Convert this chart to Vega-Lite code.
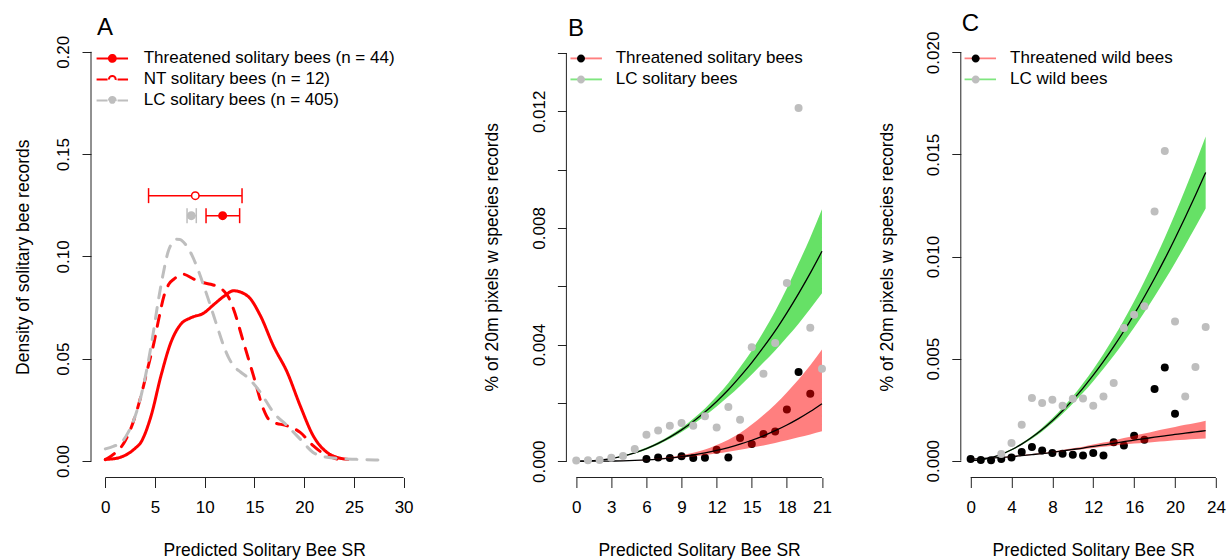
{
  "$schema": "https://vega.github.io/schema/vega-lite/v6.json",
  "background": "white",
  "padding": {"left": 14, "top": 12, "right": 2, "bottom": 2},
  "bounds": "flush",
  "spacing": 128.4,
  "config": {
    "font": "Liberation Sans",
    "view": {"stroke": null},
    "axis": {"grid": false, "domain": false, "tickColor": "#222", "tickWidth": 1, "labelFont": "Liberation Sans", "titleFont": "Liberation Sans", "labelFontSize": 17, "titleFontSize": 17.5, "titleFontWeight": "normal", "labelColor": "#000", "titleColor": "#000", "labelOverlap": false, "labelFlush": false},
    "legend": {"labelFont": "Liberation Sans", "labelFontSize": 17, "labelColor": "#000", "padding": 0, "labelLimit": 600, "rowPadding": 3, "offset": 0},
    "title": {"font": "Liberation Sans", "fontSize": 24, "fontWeight": "normal", "anchor": "start", "frame": "group", "baseline": "alphabetic", "offset": 3, "dy": 8, "color": "#000"}
  },
  "resolve": {"scale": {"color": "independent", "fill": "independent", "fillOpacity": "independent", "stroke": "independent", "strokeDash": "independent"}},
  "datasets": {
    "dens": [
      {"grp": "Threatened solitary bees (n = 44)", "x": 0, "y": 0.0008},
      {"grp": "Threatened solitary bees (n = 44)", "x": 1, "y": 0.0012},
      {"grp": "Threatened solitary bees (n = 44)", "x": 2, "y": 0.0028},
      {"grp": "Threatened solitary bees (n = 44)", "x": 3, "y": 0.0062},
      {"grp": "Threatened solitary bees (n = 44)", "x": 3.6, "y": 0.0093},
      {"grp": "Threatened solitary bees (n = 44)", "x": 4.6, "y": 0.022},
      {"grp": "Threatened solitary bees (n = 44)", "x": 5.6, "y": 0.0417},
      {"grp": "Threatened solitary bees (n = 44)", "x": 6.6, "y": 0.058},
      {"grp": "Threatened solitary bees (n = 44)", "x": 7.6, "y": 0.0669},
      {"grp": "Threatened solitary bees (n = 44)", "x": 8.6, "y": 0.070},
      {"grp": "Threatened solitary bees (n = 44)", "x": 9.9, "y": 0.0723},
      {"grp": "Threatened solitary bees (n = 44)", "x": 10.9, "y": 0.0764},
      {"grp": "Threatened solitary bees (n = 44)", "x": 11.9, "y": 0.0804},
      {"grp": "Threatened solitary bees (n = 44)", "x": 12.9, "y": 0.0832},
      {"grp": "Threatened solitary bees (n = 44)", "x": 14.3, "y": 0.0807},
      {"grp": "Threatened solitary bees (n = 44)", "x": 15.6, "y": 0.071},
      {"grp": "Threatened solitary bees (n = 44)", "x": 16.9, "y": 0.0563},
      {"grp": "Threatened solitary bees (n = 44)", "x": 18.3, "y": 0.0433},
      {"grp": "Threatened solitary bees (n = 44)", "x": 19.6, "y": 0.027},
      {"grp": "Threatened solitary bees (n = 44)", "x": 20.9, "y": 0.0124},
      {"grp": "Threatened solitary bees (n = 44)", "x": 22.3, "y": 0.0042},
      {"grp": "Threatened solitary bees (n = 44)", "x": 23.3, "y": 0.0018},
      {"grp": "Threatened solitary bees (n = 44)", "x": 24.4, "y": 0.0008},
      {"grp": "NT solitary bees (n = 12)", "x": 0, "y": 0.0006},
      {"grp": "NT solitary bees (n = 12)", "x": 1, "y": 0.004},
      {"grp": "NT solitary bees (n = 12)", "x": 1.9, "y": 0.009},
      {"grp": "NT solitary bees (n = 12)", "x": 2.8, "y": 0.019},
      {"grp": "NT solitary bees (n = 12)", "x": 3.6, "y": 0.032},
      {"grp": "NT solitary bees (n = 12)", "x": 4.3, "y": 0.046},
      {"grp": "NT solitary bees (n = 12)", "x": 4.9, "y": 0.058},
      {"grp": "NT solitary bees (n = 12)", "x": 5.4, "y": 0.070},
      {"grp": "NT solitary bees (n = 12)", "x": 5.9, "y": 0.0807},
      {"grp": "NT solitary bees (n = 12)", "x": 6.4, "y": 0.0865},
      {"grp": "NT solitary bees (n = 12)", "x": 6.9, "y": 0.0889},
      {"grp": "NT solitary bees (n = 12)", "x": 7.8, "y": 0.0913},
      {"grp": "NT solitary bees (n = 12)", "x": 8.9, "y": 0.0889},
      {"grp": "NT solitary bees (n = 12)", "x": 9.8, "y": 0.0872},
      {"grp": "NT solitary bees (n = 12)", "x": 10.6, "y": 0.0864},
      {"grp": "NT solitary bees (n = 12)", "x": 11.3, "y": 0.0852},
      {"grp": "NT solitary bees (n = 12)", "x": 11.9, "y": 0.0832},
      {"grp": "NT solitary bees (n = 12)", "x": 12.4, "y": 0.080},
      {"grp": "NT solitary bees (n = 12)", "x": 12.9, "y": 0.0742},
      {"grp": "NT solitary bees (n = 12)", "x": 13.9, "y": 0.058},
      {"grp": "NT solitary bees (n = 12)", "x": 14.9, "y": 0.0417},
      {"grp": "NT solitary bees (n = 12)", "x": 15.9, "y": 0.0254},
      {"grp": "NT solitary bees (n = 12)", "x": 16.4, "y": 0.0205},
      {"grp": "NT solitary bees (n = 12)", "x": 16.9, "y": 0.0189},
      {"grp": "NT solitary bees (n = 12)", "x": 18.3, "y": 0.0172},
      {"grp": "NT solitary bees (n = 12)", "x": 19.6, "y": 0.014},
      {"grp": "NT solitary bees (n = 12)", "x": 20.9, "y": 0.0075},
      {"grp": "NT solitary bees (n = 12)", "x": 22.3, "y": 0.0026},
      {"grp": "NT solitary bees (n = 12)", "x": 23.3, "y": 0.001},
      {"grp": "LC solitary bees (n = 405)", "x": 0, "y": 0.0059},
      {"grp": "LC solitary bees (n = 405)", "x": 0.8, "y": 0.0072},
      {"grp": "LC solitary bees (n = 405)", "x": 1.6, "y": 0.009},
      {"grp": "LC solitary bees (n = 405)", "x": 2.3, "y": 0.014},
      {"grp": "LC solitary bees (n = 405)", "x": 2.9, "y": 0.0205},
      {"grp": "LC solitary bees (n = 405)", "x": 3.6, "y": 0.032},
      {"grp": "LC solitary bees (n = 405)", "x": 4.3, "y": 0.048},
      {"grp": "LC solitary bees (n = 405)", "x": 4.8, "y": 0.062},
      {"grp": "LC solitary bees (n = 405)", "x": 5.3, "y": 0.0775},
      {"grp": "LC solitary bees (n = 405)", "x": 5.8, "y": 0.091},
      {"grp": "LC solitary bees (n = 405)", "x": 6.3, "y": 0.102},
      {"grp": "LC solitary bees (n = 405)", "x": 6.7, "y": 0.1065},
      {"grp": "LC solitary bees (n = 405)", "x": 7.1, "y": 0.1084},
      {"grp": "LC solitary bees (n = 405)", "x": 7.5, "y": 0.1083},
      {"grp": "LC solitary bees (n = 405)", "x": 7.9, "y": 0.1068},
      {"grp": "LC solitary bees (n = 405)", "x": 8.4, "y": 0.1035},
      {"grp": "LC solitary bees (n = 405)", "x": 8.9, "y": 0.0986},
      {"grp": "LC solitary bees (n = 405)", "x": 9.4, "y": 0.0925},
      {"grp": "LC solitary bees (n = 405)", "x": 9.9, "y": 0.0856},
      {"grp": "LC solitary bees (n = 405)", "x": 10.4, "y": 0.0785},
      {"grp": "LC solitary bees (n = 405)", "x": 10.9, "y": 0.071},
      {"grp": "LC solitary bees (n = 405)", "x": 11.4, "y": 0.0635},
      {"grp": "LC solitary bees (n = 405)", "x": 11.9, "y": 0.0563},
      {"grp": "LC solitary bees (n = 405)", "x": 12.4, "y": 0.0505},
      {"grp": "LC solitary bees (n = 405)", "x": 12.9, "y": 0.0465},
      {"grp": "LC solitary bees (n = 405)", "x": 13.6, "y": 0.0435},
      {"grp": "LC solitary bees (n = 405)", "x": 14.3, "y": 0.0409},
      {"grp": "LC solitary bees (n = 405)", "x": 15.6, "y": 0.0335},
      {"grp": "LC solitary bees (n = 405)", "x": 16.9, "y": 0.0238},
      {"grp": "LC solitary bees (n = 405)", "x": 18.3, "y": 0.0172},
      {"grp": "LC solitary bees (n = 405)", "x": 19.6, "y": 0.0107},
      {"grp": "LC solitary bees (n = 405)", "x": 20.9, "y": 0.0042},
      {"grp": "LC solitary bees (n = 405)", "x": 22.3, "y": 0.0018},
      {"grp": "LC solitary bees (n = 405)", "x": 23.5, "y": 0.0012},
      {"grp": "LC solitary bees (n = 405)", "x": 25.3, "y": 0.0008},
      {"grp": "LC solitary bees (n = 405)", "x": 27.6, "y": 0.0005}
    ],
    "eb": [
      {"grp": "Threatened solitary bees (n = 44)", "y": 0.1199, "lo": 10.13, "hi": 13.51, "mean": 11.8},
      {"grp": "NT solitary bees (n = 12)", "y": 0.1297, "lo": 4.35, "hi": 13.75, "mean": 9.05},
      {"grp": "LC solitary bees (n = 405)", "y": 0.1199, "lo": 8.22, "hi": 9.15, "mean": 8.65}
    ],
    "ptsB": [
      {"series": "LC solitary bees", "x": 0, "y": 0.00002},
      {"series": "LC solitary bees", "x": 1, "y": 0.00003},
      {"series": "LC solitary bees", "x": 2, "y": 0.00004},
      {"series": "LC solitary bees", "x": 3, "y": 0.00012},
      {"series": "LC solitary bees", "x": 4, "y": 0.00018},
      {"series": "LC solitary bees", "x": 5, "y": 0.00042},
      {"series": "LC solitary bees", "x": 6, "y": 0.00091},
      {"series": "LC solitary bees", "x": 7, "y": 0.00105},
      {"series": "LC solitary bees", "x": 8, "y": 0.00122},
      {"series": "LC solitary bees", "x": 9, "y": 0.00131},
      {"series": "LC solitary bees", "x": 10, "y": 0.00122},
      {"series": "LC solitary bees", "x": 11, "y": 0.00154},
      {"series": "LC solitary bees", "x": 12, "y": 0.00116},
      {"series": "LC solitary bees", "x": 13, "y": 0.00186},
      {"series": "LC solitary bees", "x": 14, "y": 0.00142},
      {"series": "LC solitary bees", "x": 15, "y": 0.00391},
      {"series": "LC solitary bees", "x": 16, "y": 0.0030},
      {"series": "LC solitary bees", "x": 17, "y": 0.00405},
      {"series": "LC solitary bees", "x": 18, "y": 0.00611},
      {"series": "LC solitary bees", "x": 19, "y": 0.01211},
      {"series": "LC solitary bees", "x": 20, "y": 0.00458},
      {"series": "LC solitary bees", "x": 21, "y": 0.00317},
      {"series": "Threatened solitary bees", "x": 6, "y": 0.000075},
      {"series": "Threatened solitary bees", "x": 7, "y": 0.00013},
      {"series": "Threatened solitary bees", "x": 8, "y": 0.00011},
      {"series": "Threatened solitary bees", "x": 9, "y": 0.00017},
      {"series": "Threatened solitary bees", "x": 10, "y": 0.00011},
      {"series": "Threatened solitary bees", "x": 11, "y": 0.00012},
      {"series": "Threatened solitary bees", "x": 12, "y": 0.00039},
      {"series": "Threatened solitary bees", "x": 13, "y": 0.00013},
      {"series": "Threatened solitary bees", "x": 14, "y": 0.0008},
      {"series": "Threatened solitary bees", "x": 15, "y": 0.00059},
      {"series": "Threatened solitary bees", "x": 16, "y": 0.00093},
      {"series": "Threatened solitary bees", "x": 17, "y": 0.00102},
      {"series": "Threatened solitary bees", "x": 18, "y": 0.00177},
      {"series": "Threatened solitary bees", "x": 19, "y": 0.00306},
      {"series": "Threatened solitary bees", "x": 20, "y": 0.00231}
    ],
    "fitB": [
      {"series": "LC solitary bees", "x": 0, "fit": 0, "lo": 0, "hi": 0},
      {"series": "LC solitary bees", "x": 1, "fit": 0.0000077, "lo": 0.0000065, "hi": 0.000009},
      {"series": "LC solitary bees", "x": 2, "fit": 0.0000367, "lo": 0.000032, "hi": 0.000042},
      {"series": "LC solitary bees", "x": 3, "fit": 0.0000912, "lo": 0.000081, "hi": 0.000102},
      {"series": "LC solitary bees", "x": 4, "fit": 0.000174, "lo": 0.000157, "hi": 0.000192},
      {"series": "LC solitary bees", "x": 5, "fit": 0.000287, "lo": 0.000261, "hi": 0.000313},
      {"series": "LC solitary bees", "x": 6, "fit": 0.000432, "lo": 0.000397, "hi": 0.000467},
      {"series": "LC solitary bees", "x": 7, "fit": 0.000611, "lo": 0.000565, "hi": 0.000657},
      {"series": "LC solitary bees", "x": 8, "fit": 0.000825, "lo": 0.000767, "hi": 0.000883},
      {"series": "LC solitary bees", "x": 9, "fit": 0.001074, "lo": 0.000999, "hi": 0.001149},
      {"series": "LC solitary bees", "x": 10, "fit": 0.001361, "lo": 0.001266, "hi": 0.001456},
      {"series": "LC solitary bees", "x": 11, "fit": 0.001685, "lo": 0.001559, "hi": 0.001811},
      {"series": "LC solitary bees", "x": 12, "fit": 0.00205, "lo": 0.001876, "hi": 0.002224},
      {"series": "LC solitary bees", "x": 13, "fit": 0.00245, "lo": 0.002217, "hi": 0.002683},
      {"series": "LC solitary bees", "x": 14, "fit": 0.0029, "lo": 0.002581, "hi": 0.003219},
      {"series": "LC solitary bees", "x": 15, "fit": 0.00338, "lo": 0.002974, "hi": 0.003786},
      {"series": "LC solitary bees", "x": 16, "fit": 0.00391, "lo": 0.003382, "hi": 0.004438},
      {"series": "LC solitary bees", "x": 17, "fit": 0.00447, "lo": 0.0038, "hi": 0.00514},
      {"series": "LC solitary bees", "x": 18, "fit": 0.00509, "lo": 0.00425, "hi": 0.00593},
      {"series": "LC solitary bees", "x": 19, "fit": 0.00575, "lo": 0.004715, "hi": 0.006785},
      {"series": "LC solitary bees", "x": 20, "fit": 0.00645, "lo": 0.005225, "hi": 0.007675},
      {"series": "LC solitary bees", "x": 21, "fit": 0.0072, "lo": 0.00576, "hi": 0.00864},
      {"series": "Threatened solitary bees", "x": 0, "fit": 0, "lo": 0, "hi": 0},
      {"series": "Threatened solitary bees", "x": 1, "fit": 0.0000002, "lo": 0.00000016, "hi": 0.00000026},
      {"series": "Threatened solitary bees", "x": 2, "fit": 0.0000017, "lo": 0.0000013, "hi": 0.0000022},
      {"series": "Threatened solitary bees", "x": 3, "fit": 0.0000058, "lo": 0.0000045, "hi": 0.0000075},
      {"series": "Threatened solitary bees", "x": 4, "fit": 0.0000136, "lo": 0.0000106, "hi": 0.0000177},
      {"series": "Threatened solitary bees", "x": 5, "fit": 0.0000266, "lo": 0.0000207, "hi": 0.0000346},
      {"series": "Threatened solitary bees", "x": 6, "fit": 0.000046, "lo": 0.0000359, "hi": 0.0000598},
      {"series": "Threatened solitary bees", "x": 7, "fit": 0.000073, "lo": 0.0000569, "hi": 0.0000949},
      {"series": "Threatened solitary bees", "x": 8, "fit": 0.000109, "lo": 0.000085, "hi": 0.000142},
      {"series": "Threatened solitary bees", "x": 9, "fit": 0.000155, "lo": 0.000121, "hi": 0.000202},
      {"series": "Threatened solitary bees", "x": 10, "fit": 0.000213, "lo": 0.000162, "hi": 0.000288},
      {"series": "Threatened solitary bees", "x": 11, "fit": 0.000284, "lo": 0.00021, "hi": 0.000398},
      {"series": "Threatened solitary bees", "x": 12, "fit": 0.000368, "lo": 0.000265, "hi": 0.000552},
      {"series": "Threatened solitary bees", "x": 13, "fit": 0.000468, "lo": 0.000328, "hi": 0.000739},
      {"series": "Threatened solitary bees", "x": 14, "fit": 0.000584, "lo": 0.000391, "hi": 0.000964},
      {"series": "Threatened solitary bees", "x": 15, "fit": 0.000719, "lo": 0.000467, "hi": 0.001258},
      {"series": "Threatened solitary bees", "x": 16, "fit": 0.000872, "lo": 0.000541, "hi": 0.001587},
      {"series": "Threatened solitary bees", "x": 17, "fit": 0.001046, "lo": 0.000628, "hi": 0.001946},
      {"series": "Threatened solitary bees", "x": 18, "fit": 0.001242, "lo": 0.00072, "hi": 0.00236},
      {"series": "Threatened solitary bees", "x": 19, "fit": 0.001461, "lo": 0.000818, "hi": 0.002805},
      {"series": "Threatened solitary bees", "x": 20, "fit": 0.001704, "lo": 0.00092, "hi": 0.003289},
      {"series": "Threatened solitary bees", "x": 21, "fit": 0.001973, "lo": 0.001026, "hi": 0.003828}
    ],
    "ptsC": [
      {"series": "LC wild bees", "x": 3, "y": 0.00033},
      {"series": "LC wild bees", "x": 4, "y": 0.00087},
      {"series": "LC wild bees", "x": 5, "y": 0.00176},
      {"series": "LC wild bees", "x": 6, "y": 0.00307},
      {"series": "LC wild bees", "x": 7, "y": 0.00283},
      {"series": "LC wild bees", "x": 8, "y": 0.00299},
      {"series": "LC wild bees", "x": 9, "y": 0.00269},
      {"series": "LC wild bees", "x": 10, "y": 0.00304},
      {"series": "LC wild bees", "x": 11, "y": 0.00305},
      {"series": "LC wild bees", "x": 12, "y": 0.00269},
      {"series": "LC wild bees", "x": 13, "y": 0.00315},
      {"series": "LC wild bees", "x": 14, "y": 0.0038},
      {"series": "LC wild bees", "x": 15, "y": 0.0065},
      {"series": "LC wild bees", "x": 16, "y": 0.00715},
      {"series": "LC wild bees", "x": 17, "y": 0.00756},
      {"series": "LC wild bees", "x": 18, "y": 0.01221},
      {"series": "LC wild bees", "x": 19, "y": 0.01517},
      {"series": "LC wild bees", "x": 20, "y": 0.00682},
      {"series": "LC wild bees", "x": 21, "y": 0.00315},
      {"series": "LC wild bees", "x": 22, "y": 0.00459},
      {"series": "LC wild bees", "x": 23, "y": 0.00655},
      {"series": "Threatened wild bees", "x": 0, "y": 0.00008},
      {"series": "Threatened wild bees", "x": 1, "y": 0.00003},
      {"series": "Threatened wild bees", "x": 2, "y": 0.00002},
      {"series": "Threatened wild bees", "x": 3, "y": 0.00008},
      {"series": "Threatened wild bees", "x": 4, "y": 0.00016},
      {"series": "Threatened wild bees", "x": 5, "y": 0.00043},
      {"series": "Threatened wild bees", "x": 6, "y": 0.00067},
      {"series": "Threatened wild bees", "x": 7, "y": 0.0005},
      {"series": "Threatened wild bees", "x": 8, "y": 0.00038},
      {"series": "Threatened wild bees", "x": 9, "y": 0.00034},
      {"series": "Threatened wild bees", "x": 10, "y": 0.00029},
      {"series": "Threatened wild bees", "x": 11, "y": 0.00026},
      {"series": "Threatened wild bees", "x": 12, "y": 0.00038},
      {"series": "Threatened wild bees", "x": 13, "y": 0.00026},
      {"series": "Threatened wild bees", "x": 14, "y": 0.0009},
      {"series": "Threatened wild bees", "x": 15, "y": 0.00075},
      {"series": "Threatened wild bees", "x": 16, "y": 0.00122},
      {"series": "Threatened wild bees", "x": 17, "y": 0.00103},
      {"series": "Threatened wild bees", "x": 18, "y": 0.00351},
      {"series": "Threatened wild bees", "x": 19, "y": 0.00456},
      {"series": "Threatened wild bees", "x": 20, "y": 0.0023}
    ],
    "fitC": [
      {"series": "LC wild bees", "x": 0, "fit": 0, "lo": 0, "hi": 0},
      {"series": "LC wild bees", "x": 1, "fit": 0.0000402, "lo": 0.0000378, "hi": 0.0000426},
      {"series": "LC wild bees", "x": 2, "fit": 0.000147, "lo": 0.000138, "hi": 0.000156},
      {"series": "LC wild bees", "x": 3, "fit": 0.000313, "lo": 0.000294, "hi": 0.000332},
      {"series": "LC wild bees", "x": 4, "fit": 0.000537, "lo": 0.000505, "hi": 0.000569},
      {"series": "LC wild bees", "x": 5, "fit": 0.000814, "lo": 0.000765, "hi": 0.000863},
      {"series": "LC wild bees", "x": 6, "fit": 0.001145, "lo": 0.001076, "hi": 0.001214},
      {"series": "LC wild bees", "x": 7, "fit": 0.001528, "lo": 0.001436, "hi": 0.00162},
      {"series": "LC wild bees", "x": 8, "fit": 0.00196, "lo": 0.001842, "hi": 0.002078},
      {"series": "LC wild bees", "x": 9, "fit": 0.002446, "lo": 0.002299, "hi": 0.002593},
      {"series": "LC wild bees", "x": 10, "fit": 0.002977, "lo": 0.002798, "hi": 0.003156},
      {"series": "LC wild bees", "x": 11, "fit": 0.003558, "lo": 0.003327, "hi": 0.003789},
      {"series": "LC wild bees", "x": 12, "fit": 0.004188, "lo": 0.003895, "hi": 0.004481},
      {"series": "LC wild bees", "x": 13, "fit": 0.004864, "lo": 0.004499, "hi": 0.005229},
      {"series": "LC wild bees", "x": 14, "fit": 0.005585, "lo": 0.005138, "hi": 0.006032},
      {"series": "LC wild bees", "x": 15, "fit": 0.006353, "lo": 0.005813, "hi": 0.006893},
      {"series": "LC wild bees", "x": 16, "fit": 0.007171, "lo": 0.006526, "hi": 0.007816},
      {"series": "LC wild bees", "x": 17, "fit": 0.008032, "lo": 0.007269, "hi": 0.008795},
      {"series": "LC wild bees", "x": 18, "fit": 0.008937, "lo": 0.008043, "hi": 0.009831},
      {"series": "LC wild bees", "x": 19, "fit": 0.009884, "lo": 0.008846, "hi": 0.010922},
      {"series": "LC wild bees", "x": 20, "fit": 0.010883, "lo": 0.009686, "hi": 0.01208},
      {"series": "LC wild bees", "x": 21, "fit": 0.011927, "lo": 0.010555, "hi": 0.013299},
      {"series": "LC wild bees", "x": 22, "fit": 0.013003, "lo": 0.011443, "hi": 0.014563},
      {"series": "LC wild bees", "x": 23, "fit": 0.01412, "lo": 0.012355, "hi": 0.015885},
      {"series": "Threatened wild bees", "x": 0, "fit": 0.00008, "lo": 0.000075, "hi": 0.000086},
      {"series": "Threatened wild bees", "x": 1, "fit": 0.0001, "lo": 0.000094, "hi": 0.000108},
      {"series": "Threatened wild bees", "x": 2, "fit": 0.00013, "lo": 0.000122, "hi": 0.00014},
      {"series": "Threatened wild bees", "x": 3, "fit": 0.00016, "lo": 0.00015, "hi": 0.000173},
      {"series": "Threatened wild bees", "x": 4, "fit": 0.0002, "lo": 0.000187, "hi": 0.000216},
      {"series": "Threatened wild bees", "x": 5, "fit": 0.00025, "lo": 0.000234, "hi": 0.00027},
      {"series": "Threatened wild bees", "x": 6, "fit": 0.0003, "lo": 0.000281, "hi": 0.000324},
      {"series": "Threatened wild bees", "x": 7, "fit": 0.00035, "lo": 0.000328, "hi": 0.000378},
      {"series": "Threatened wild bees", "x": 8, "fit": 0.00041, "lo": 0.000384, "hi": 0.000443},
      {"series": "Threatened wild bees", "x": 9, "fit": 0.00048, "lo": 0.000445, "hi": 0.000523},
      {"series": "Threatened wild bees", "x": 10, "fit": 0.00055, "lo": 0.000506, "hi": 0.000605},
      {"series": "Threatened wild bees", "x": 11, "fit": 0.00062, "lo": 0.000565, "hi": 0.000688},
      {"series": "Threatened wild bees", "x": 12, "fit": 0.0007, "lo": 0.000627, "hi": 0.000791},
      {"series": "Threatened wild bees", "x": 13, "fit": 0.00077, "lo": 0.000678, "hi": 0.000886},
      {"series": "Threatened wild bees", "x": 14, "fit": 0.00085, "lo": 0.000734, "hi": 0.000995},
      {"series": "Threatened wild bees", "x": 15, "fit": 0.00093, "lo": 0.000789, "hi": 0.001107},
      {"series": "Threatened wild bees", "x": 16, "fit": 0.00101, "lo": 0.00084, "hi": 0.001222},
      {"series": "Threatened wild bees", "x": 17, "fit": 0.00108, "lo": 0.000881, "hi": 0.001328},
      {"series": "Threatened wild bees", "x": 18, "fit": 0.00115, "lo": 0.00092, "hi": 0.001438},
      {"series": "Threatened wild bees", "x": 19, "fit": 0.00122, "lo": 0.000956, "hi": 0.001549},
      {"series": "Threatened wild bees", "x": 20, "fit": 0.00129, "lo": 0.000999, "hi": 0.001651},
      {"series": "Threatened wild bees", "x": 21, "fit": 0.00135, "lo": 0.001026, "hi": 0.001755},
      {"series": "Threatened wild bees", "x": 22, "fit": 0.00141, "lo": 0.00106, "hi": 0.001847},
      {"series": "Threatened wild bees", "x": 23, "fit": 0.00147, "lo": 0.001082, "hi": 0.001955}
    ]
  },
  "hconcat": [
    {
      "width": 346.4,
      "height": 441.5,
      "title": {"text": "A", "dx": 6},
      "layer": [
        {
          "data": {"name": "dens"},
          "mark": {"type": "line", "strokeWidth": 3, "interpolate": "monotone", "strokeCap": "round", "strokeJoin": "round"},
          "encoding": {
            "x": {"field": "x", "type": "quantitative", "scale": {"domain": [-1.44, 33.4], "nice": false, "zero": false}, "axis": {"values": [0, 5, 10, 15, 20, 25, 30], "tickCount": 20, "format": "d", "title": "Predicted Solitary Bee SR", "tickSize": 10, "labelPadding": 11.5, "labelBaseline": "top", "labelAngle": 0, "labelAlign": "center", "titleY": 78, "titleBaseline": "alphabetic", "labelOverlap": false}},
            "y": {"field": "y", "type": "quantitative", "scale": {"domain": [-0.00806, 0.20772], "nice": false, "zero": false}, "axis": {"values": [0, 0.05, 0.1, 0.15, 0.2], "tickCount": 20, "format": ".2f", "title": "Density of solitary bee records", "tickSize": 9, "labelAngle": -90, "labelAlign": "center", "labelBaseline": "alphabetic", "labelPadding": 13.4, "titleX": -62.4, "titleBaseline": "alphabetic", "titleAlign": "center", "labelOverlap": false}},
            "stroke": {
              "field": "grp", "type": "nominal",
              "scale": {"domain": ["Threatened solitary bees (n = 44)", "NT solitary bees (n = 12)", "LC solitary bees (n = 405)"], "range": ["#ff0000", "#ff0000", "#bebebe"]},
              "legend": {
                "orient": "none", "legendX": 12.8, "legendY": 13.9, "title": null,
                "symbolType": "M-3,0H3M-0.65,0A0.65,0.65,0,1,1,0.65,0A0.65,0.65,0,1,1,-0.65,0Z",
                "symbolSize": 110, "labelOffset": 22.9, "rowPadding": 3,
                "encode": {"symbols": {"update": {"fill": {"value": {"expr": "datum.index === 1 ? '#ffffff' : (datum.index === 2 ? '#bebebe' : '#ff0000')"}}, "strokeWidth": {"value": 2}, "opacity": {"value": 1}}}}
              }
            },
            "strokeDash": {
              "field": "grp", "type": "nominal",
              "scale": {"domain": ["Threatened solitary bees (n = 44)", "NT solitary bees (n = 12)", "LC solitary bees (n = 405)"], "range": [[1, 0], [11, 10], [11, 10]]}
            }
          }
        },
        {
          "data": {"values": [{}]},
          "mark": {"type": "rule", "color": "#222", "strokeWidth": 1},
          "encoding": {
            "x": {"datum": 0, "type": "quantitative", "scale": {"domain": [-1.44, 33.4], "nice": false, "zero": false}},
            "x2": {"datum": 30},
            "y": {"datum": -0.00806, "type": "quantitative", "scale": {"domain": [-0.00806, 0.20772], "nice": false, "zero": false}}
          }
        },
        {
          "data": {"values": [{}]},
          "mark": {"type": "rule", "color": "#222", "strokeWidth": 1},
          "encoding": {
            "x": {"datum": -1.44, "type": "quantitative", "scale": {"domain": [-1.44, 33.4], "nice": false, "zero": false}},
            "y": {"datum": 0, "type": "quantitative", "scale": {"domain": [-0.00806, 0.20772], "nice": false, "zero": false}},
            "y2": {"datum": 0.2}
          }
        },
        {
          "data": {"name": "eb"},
          "mark": {"type": "rule", "strokeWidth": 1.5},
          "encoding": {
            "x": {"field": "lo", "type": "quantitative", "scale": {"domain": [-1.44, 33.4], "nice": false, "zero": false}},
            "x2": {"field": "hi"},
            "y": {"field": "y", "type": "quantitative", "scale": {"domain": [-0.00806, 0.20772], "nice": false, "zero": false}},
            "stroke": {"field": "grp", "type": "nominal", "scale": {"domain": ["Threatened solitary bees (n = 44)", "NT solitary bees (n = 12)", "LC solitary bees (n = 405)"], "range": ["#ff0000", "#ff0000", "#bebebe"]}, "legend": null}
          }
        },
        {
          "data": {"name": "eb"},
          "mark": {"type": "point", "shape": "M0,-1L0,1", "size": 225, "strokeWidth": 1.5, "filled": false, "opacity": 1},
          "encoding": {
            "x": {"field": "lo", "type": "quantitative", "scale": {"domain": [-1.44, 33.4], "nice": false, "zero": false}},
            "y": {"field": "y", "type": "quantitative", "scale": {"domain": [-0.00806, 0.20772], "nice": false, "zero": false}},
            "stroke": {"field": "grp", "type": "nominal", "scale": {"domain": ["Threatened solitary bees (n = 44)", "NT solitary bees (n = 12)", "LC solitary bees (n = 405)"], "range": ["#ff0000", "#ff0000", "#bebebe"]}, "legend": null}
          }
        },
        {
          "data": {"name": "eb"},
          "mark": {"type": "point", "shape": "M0,-1L0,1", "size": 225, "strokeWidth": 1.5, "filled": false, "opacity": 1},
          "encoding": {
            "x": {"field": "hi", "type": "quantitative", "scale": {"domain": [-1.44, 33.4], "nice": false, "zero": false}},
            "y": {"field": "y", "type": "quantitative", "scale": {"domain": [-0.00806, 0.20772], "nice": false, "zero": false}},
            "stroke": {"field": "grp", "type": "nominal", "scale": {"domain": ["Threatened solitary bees (n = 44)", "NT solitary bees (n = 12)", "LC solitary bees (n = 405)"], "range": ["#ff0000", "#ff0000", "#bebebe"]}, "legend": null}
          }
        },
        {
          "data": {"name": "eb"},
          "mark": {"type": "point", "shape": "circle", "size": 56, "strokeWidth": 1.5, "filled": true, "opacity": 1},
          "encoding": {
            "x": {"field": "mean", "type": "quantitative", "scale": {"domain": [-1.44, 33.4], "nice": false, "zero": false}},
            "y": {"field": "y", "type": "quantitative", "scale": {"domain": [-0.00806, 0.20772], "nice": false, "zero": false}},
            "fill": {"field": "grp", "type": "nominal", "scale": {"domain": ["Threatened solitary bees (n = 44)", "NT solitary bees (n = 12)", "LC solitary bees (n = 405)"], "range": ["#ff0000", "#ffffff", "#bebebe"]}, "legend": null},
            "stroke": {"field": "grp", "type": "nominal", "scale": {"domain": ["Threatened solitary bees (n = 44)", "NT solitary bees (n = 12)", "LC solitary bees (n = 405)"], "range": ["#ff0000", "#ff0000", "#bebebe"]}, "legend": null}
          }
        }
      ]
    },
    {
      "width": 265.4,
      "height": 441.5,
      "title": {"text": "B", "dx": 1.5},
      "layer": [
        {
          "data": {"name": "ptsB"},
          "transform": [{"filter": "datum.series === 'Threatened solitary bees'"}],
          "mark": {"type": "point", "filled": true, "size": 64, "opacity": 1, "shape": "circle"},
          "encoding": {
            "x": {"field": "x", "type": "quantitative", "scale": {"domain": [-0.84, 21.84], "nice": false, "zero": false}, "axis": {"values": [0, 3, 6, 9, 12, 15, 18, 21], "tickCount": 20, "format": "d", "title": "Predicted Solitary Bee SR", "tickSize": 10, "labelPadding": 11.5, "labelBaseline": "top", "labelAngle": 0, "labelAlign": "center", "titleY": 78, "titleBaseline": "alphabetic", "labelOverlap": false}},
            "y": {"field": "y", "type": "quantitative", "scale": {"domain": [-0.000559, 0.014583], "nice": false, "zero": false}, "axis": {"values": [0, 0.002, 0.004, 0.006, 0.008, 0.01, 0.012, 0.014], "tickCount": 20, "format": ".3f", "labelExpr": "indexof(['0.000','0.004','0.008','0.012'], datum.label) >= 0 ? datum.label : ''", "title": "% of 20m pixels w species records", "tickSize": 9, "labelAngle": -90, "labelAlign": "center", "labelBaseline": "alphabetic", "labelPadding": 13.4, "titleX": -68.5, "titleBaseline": "alphabetic", "titleAlign": "center", "labelOverlap": false}},
            "color": {
              "field": "series", "type": "nominal",
              "scale": {"domain": ["Threatened solitary bees", "LC solitary bees"], "range": ["#000000", "#bebebe"]},
              "legend": {"orient": "none", "legendX": 11.3, "legendY": 13.9, "title": null, "symbolType": "M-1.75,0A0.76,0.76,0,1,1,-0.23,0A0.76,0.76,0,1,1,-1.75,0Z", "symbolSize": 110, "labelOffset": 21, "rowPadding": 3, "labelOpacity": 0, "zindex": 2, "symbolStrokeWidth": 0}
            }
          }
        },
        {
          "data": {"values": [{}]},
          "mark": {"type": "rule", "color": "#222", "strokeWidth": 1},
          "encoding": {
            "x": {"datum": 0, "type": "quantitative", "scale": {"domain": [-0.84, 21.84], "nice": false, "zero": false}},
            "x2": {"datum": 21},
            "y": {"datum": -0.000559, "type": "quantitative", "scale": {"domain": [-0.000559, 0.014583], "nice": false, "zero": false}}
          }
        },
        {
          "data": {"values": [{}]},
          "mark": {"type": "rule", "color": "#222", "strokeWidth": 1},
          "encoding": {
            "x": {"datum": -0.84, "type": "quantitative", "scale": {"domain": [-0.84, 21.84], "nice": false, "zero": false}},
            "y": {"datum": 0, "type": "quantitative", "scale": {"domain": [-0.000559, 0.014583], "nice": false, "zero": false}},
            "y2": {"datum": 0.014}
          }
        },
        {
          "data": {"name": "fitB"},
          "mark": {"type": "area", "interpolate": "monotone"},
          "encoding": {
            "x": {"field": "x", "type": "quantitative", "scale": {"domain": [-0.84, 21.84], "nice": false, "zero": false}},
            "y": {"field": "lo", "type": "quantitative", "scale": {"domain": [-0.000559, 0.014583], "nice": false, "zero": false}},
            "y2": {"field": "hi"},
            "fill": {
              "field": "series", "type": "nominal", "sort": "descending",
              "scale": {"range": ["#ff0000", "#00cd00"]},
              "legend": {"orient": "none", "legendX": 11.3, "legendY": 13.9, "title": null, "symbolType": "M-3,-0.18H3V0.18H-3Z", "symbolSize": 110, "labelOffset": 21, "rowPadding": 3, "zindex": 1, "symbolOpacity": 0.5}
            },
            "fillOpacity": {"field": "series", "type": "nominal", "sort": "descending", "scale": {"range": [0.5, 0.6]}, "legend": null}
          }
        },
        {
          "data": {"name": "fitB"},
          "mark": {"type": "line", "color": "#000000", "strokeWidth": 1.3, "interpolate": "monotone"},
          "encoding": {
            "x": {"field": "x", "type": "quantitative", "scale": {"domain": [-0.84, 21.84], "nice": false, "zero": false}},
            "y": {"field": "fit", "type": "quantitative", "scale": {"domain": [-0.000559, 0.014583], "nice": false, "zero": false}},
            "detail": {"field": "series", "type": "nominal"}
          }
        },
        {
          "data": {"name": "ptsB"},
          "transform": [{"filter": "datum.series === 'LC solitary bees'"}],
          "mark": {"type": "point", "filled": true, "size": 64, "opacity": 1, "shape": "circle"},
          "encoding": {
            "x": {"field": "x", "type": "quantitative", "scale": {"domain": [-0.84, 21.84], "nice": false, "zero": false}},
            "y": {"field": "y", "type": "quantitative", "scale": {"domain": [-0.000559, 0.014583], "nice": false, "zero": false}},
            "color": {"field": "series", "type": "nominal", "scale": {"domain": ["Threatened solitary bees", "LC solitary bees"], "range": ["#000000", "#bebebe"]}, "legend": null}
          }
        }
      ]
    },
    {
      "width": 264.9,
      "height": 441.5,
      "title": {"text": "C", "dx": 1},
      "layer": [
        {
          "data": {"name": "ptsC"},
          "transform": [{"filter": "datum.series === 'Threatened wild bees'"}],
          "mark": {"type": "point", "filled": true, "size": 64, "opacity": 1, "shape": "circle"},
          "encoding": {
            "x": {"field": "x", "type": "quantitative", "scale": {"domain": [-0.96, 24.96], "nice": false, "zero": false}, "axis": {"values": [0, 4, 8, 12, 16, 20, 24], "tickCount": 20, "format": "d", "title": "Predicted Solitary Bee SR", "tickSize": 10, "labelPadding": 11.5, "labelBaseline": "top", "labelAngle": 0, "labelAlign": "center", "titleY": 78, "titleBaseline": "alphabetic", "labelOverlap": false}},
            "y": {"field": "y", "type": "quantitative", "scale": {"domain": [-0.000823, 0.020803], "nice": false, "zero": false}, "axis": {"values": [0, 0.005, 0.01, 0.015, 0.02], "tickCount": 20, "format": ".3f", "title": "% of 20m pixels w species records", "tickSize": 9, "labelAngle": -90, "labelAlign": "center", "labelBaseline": "alphabetic", "labelPadding": 13.4, "titleX": -68.5, "titleBaseline": "alphabetic", "titleAlign": "center", "labelOverlap": false}},
            "color": {
              "field": "series", "type": "nominal",
              "scale": {"domain": ["Threatened wild bees", "LC wild bees"], "range": ["#000000", "#bebebe"]},
              "legend": {"orient": "none", "legendX": 11.0, "legendY": 13.9, "title": null, "symbolType": "M-1.64,0A0.76,0.76,0,1,1,-0.12,0A0.76,0.76,0,1,1,-1.64,0Z", "symbolSize": 110, "labelOffset": 21.3, "rowPadding": 3, "labelOpacity": 0, "zindex": 2, "symbolStrokeWidth": 0}
            }
          }
        },
        {
          "data": {"values": [{}]},
          "mark": {"type": "rule", "color": "#222", "strokeWidth": 1},
          "encoding": {
            "x": {"datum": 0, "type": "quantitative", "scale": {"domain": [-0.96, 24.96], "nice": false, "zero": false}},
            "x2": {"datum": 24},
            "y": {"datum": -0.000823, "type": "quantitative", "scale": {"domain": [-0.000823, 0.020803], "nice": false, "zero": false}}
          }
        },
        {
          "data": {"values": [{}]},
          "mark": {"type": "rule", "color": "#222", "strokeWidth": 1},
          "encoding": {
            "x": {"datum": -0.96, "type": "quantitative", "scale": {"domain": [-0.96, 24.96], "nice": false, "zero": false}},
            "y": {"datum": 0, "type": "quantitative", "scale": {"domain": [-0.000823, 0.020803], "nice": false, "zero": false}},
            "y2": {"datum": 0.02}
          }
        },
        {
          "data": {"name": "fitC"},
          "mark": {"type": "area", "interpolate": "monotone"},
          "encoding": {
            "x": {"field": "x", "type": "quantitative", "scale": {"domain": [-0.96, 24.96], "nice": false, "zero": false}},
            "y": {"field": "lo", "type": "quantitative", "scale": {"domain": [-0.000823, 0.020803], "nice": false, "zero": false}},
            "y2": {"field": "hi"},
            "fill": {
              "field": "series", "type": "nominal", "sort": "descending",
              "scale": {"range": ["#ff0000", "#00cd00"]},
              "legend": {"orient": "none", "legendX": 11.0, "legendY": 13.9, "title": null, "symbolType": "M-3,-0.18H3V0.18H-3Z", "symbolSize": 110, "labelOffset": 21.3, "rowPadding": 3, "zindex": 1, "symbolOpacity": 0.5}
            },
            "fillOpacity": {"field": "series", "type": "nominal", "sort": "descending", "scale": {"range": [0.5, 0.6]}, "legend": null}
          }
        },
        {
          "data": {"name": "fitC"},
          "mark": {"type": "line", "color": "#000000", "strokeWidth": 1.3, "interpolate": "monotone"},
          "encoding": {
            "x": {"field": "x", "type": "quantitative", "scale": {"domain": [-0.96, 24.96], "nice": false, "zero": false}},
            "y": {"field": "fit", "type": "quantitative", "scale": {"domain": [-0.000823, 0.020803], "nice": false, "zero": false}},
            "detail": {"field": "series", "type": "nominal"}
          }
        },
        {
          "data": {"name": "ptsC"},
          "transform": [{"filter": "datum.series === 'LC wild bees'"}],
          "mark": {"type": "point", "filled": true, "size": 64, "opacity": 1, "shape": "circle"},
          "encoding": {
            "x": {"field": "x", "type": "quantitative", "scale": {"domain": [-0.96, 24.96], "nice": false, "zero": false}},
            "y": {"field": "y", "type": "quantitative", "scale": {"domain": [-0.000823, 0.020803], "nice": false, "zero": false}},
            "color": {"field": "series", "type": "nominal", "scale": {"domain": ["Threatened wild bees", "LC wild bees"], "range": ["#000000", "#bebebe"]}, "legend": null}
          }
        }
      ]
    }
  ]
}
